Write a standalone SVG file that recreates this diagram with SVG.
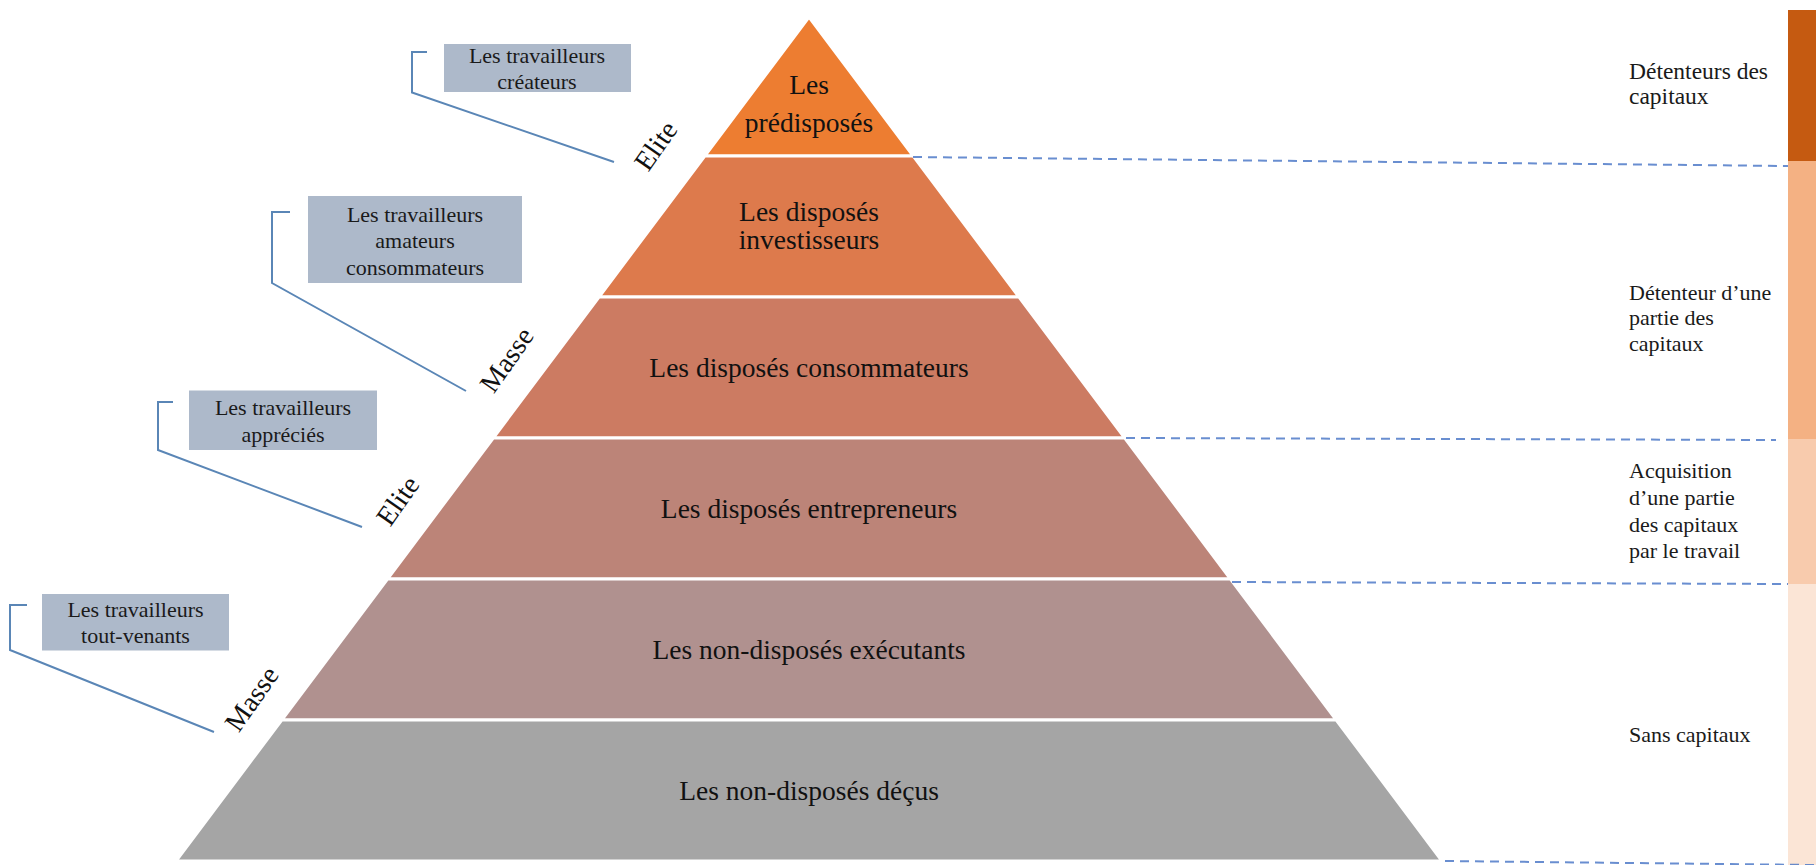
<svg xmlns="http://www.w3.org/2000/svg" width="1816" height="865" viewBox="0 0 1816 865">
  <style>
    .tier { stroke: #ffffff; stroke-width: 3; }
    .tt { font-family: "Liberation Serif", "Times New Roman", serif; font-size: 27.5px; fill: #111111; text-anchor: middle; }
    .box { fill: #ADB9CA; }
    .bt { font-family: "Liberation Serif", "Times New Roman", serif; font-size: 22px; fill: #1a1a1a; text-anchor: middle; }
    .rt { font-family: "Liberation Serif", "Times New Roman", serif; font-size: 22px; fill: #1a1a1a; }
    .lbl { font-family: "Liberation Serif", "Times New Roman", serif; font-size: 28px; fill: #111111; text-anchor: middle; }
    .conn { fill: none; stroke: #5A86B6; stroke-width: 2; }
    .dash { fill: none; stroke: #4472C4; stroke-width: 2; stroke-dasharray: 9 6; opacity: 0.8; }
  </style>

  <g id="capital-bar">
    <rect x="1788" y="10" width="28" height="151" fill="#C55A11"/>
    <rect x="1788" y="161" width="28" height="278" fill="#F4B183"/>
    <rect x="1788" y="439" width="28" height="145" fill="#F8CBAD"/>
    <rect x="1788" y="584" width="28" height="281" fill="#FBE5D6"/>
  </g>

  <g id="pyramid">
    <g id="tier-1">
      <polygon class="tier" fill="#ED7D31" points="809,17 913.25,156 704.75,156"/>
      <text class="tt" x="809" y="94">Les</text>
      <text class="tt" x="809" y="131.5">prédisposés</text>
    </g>
    <g id="tier-2">
      <polygon class="tier" fill="#DD7A4C" points="704.75,156 913.25,156 1019,297 599,297"/>
      <text class="tt" x="809" y="220.5">Les disposés</text>
      <text class="tt" x="809" y="249">investisseurs</text>
    </g>
    <g id="tier-3">
      <polygon class="tier" fill="#CC7B62" points="599,297 1019,297 1124.75,438 493.25,438"/>
      <text class="tt" x="809" y="376.5">Les disposés consommateurs</text>
    </g>
    <g id="tier-4">
      <polygon class="tier" fill="#BC8478" points="493.25,438 1124.75,438 1230.5,579 387.5,579"/>
      <text class="tt" x="809" y="517.5">Les disposés entrepreneurs</text>
    </g>
    <g id="tier-5">
      <polygon class="tier" fill="#B0918F" points="387.5,579 1230.5,579 1336.25,720 281.75,720"/>
      <text class="tt" x="809" y="659">Les non-disposés exécutants</text>
    </g>
    <g id="tier-6">
      <polygon class="tier" fill="#A5A5A5" points="281.75,720 1336.25,720 1442,861 176,861"/>
      <text class="tt" x="809" y="800">Les non-disposés déçus</text>
    </g>
  </g>

  <g id="connectors">
    <path class="conn" d="M427,52 H412 V92.5 L614,162"/>
    <path class="conn" d="M290,212 H272 V283 L466,391"/>
    <path class="conn" d="M173,402 H158 V450 L362,527"/>
    <path class="conn" d="M27,605 H10 V650 L214,732"/>
    <path class="dash" d="M913,157 L1788,166"/>
    <path class="dash" d="M1126,438 L1776,440"/>
    <path class="dash" d="M1232,582 L1788,584"/>
    <path class="dash" d="M1445,861 L1816,865"/>
  </g>

  <g id="box-createurs">
    <rect class="box" x="444" y="44" width="187" height="48"/>
    <text class="bt" x="537" y="63">Les travailleurs</text>
    <text class="bt" x="537" y="89">créateurs</text>
  </g>
  <g id="box-amateurs">
    <rect class="box" x="308" y="196" width="214" height="87"/>
    <text class="bt" x="415" y="221.5">Les travailleurs</text>
    <text class="bt" x="415" y="248">amateurs</text>
    <text class="bt" x="415" y="274.5">consommateurs</text>
  </g>
  <g id="box-apprecies">
    <rect class="box" x="189" y="390.5" width="188" height="59.5"/>
    <text class="bt" x="283" y="415">Les travailleurs</text>
    <text class="bt" x="283" y="441.5">appréciés</text>
  </g>
  <g id="box-tout-venants">
    <rect class="box" x="42" y="594" width="187" height="56.5"/>
    <text class="bt" x="135.5" y="616.5">Les travailleurs</text>
    <text class="bt" x="135.5" y="643">tout-venants</text>
  </g>

  <g id="label-elite-1">
    <text class="lbl" transform="translate(656,146) rotate(-55)" y="9">Elite</text>
  </g>
  <g id="label-masse-1">
    <text class="lbl" transform="translate(507,360) rotate(-55)" y="9">Masse</text>
  </g>
  <g id="label-elite-2">
    <text class="lbl" transform="translate(398,501) rotate(-55)" y="9">Elite</text>
  </g>
  <g id="label-masse-2">
    <text class="lbl" transform="translate(252,699) rotate(-55)" y="9">Masse</text>
  </g>

  <g id="right-labels">
    <g id="rl-detenteurs">
      <text class="rt" x="1629" y="79" style="font-size:23.5px">Détenteurs des</text>
      <text class="rt" x="1629" y="104" style="font-size:23.5px">capitaux</text>
    </g>
    <g id="rl-partie">
      <text class="rt" x="1629" y="300">Détenteur d’une</text>
      <text class="rt" x="1629" y="325">partie des</text>
      <text class="rt" x="1629" y="350.5">capitaux</text>
    </g>
    <g id="rl-acquisition">
      <text class="rt" x="1629" y="478">Acquisition</text>
      <text class="rt" x="1629" y="505">d’une partie</text>
      <text class="rt" x="1629" y="531.5">des capitaux</text>
      <text class="rt" x="1629" y="558">par le travail</text>
    </g>
    <g id="rl-sans">
      <text class="rt" x="1629" y="742">Sans capitaux</text>
    </g>
  </g>
</svg>
